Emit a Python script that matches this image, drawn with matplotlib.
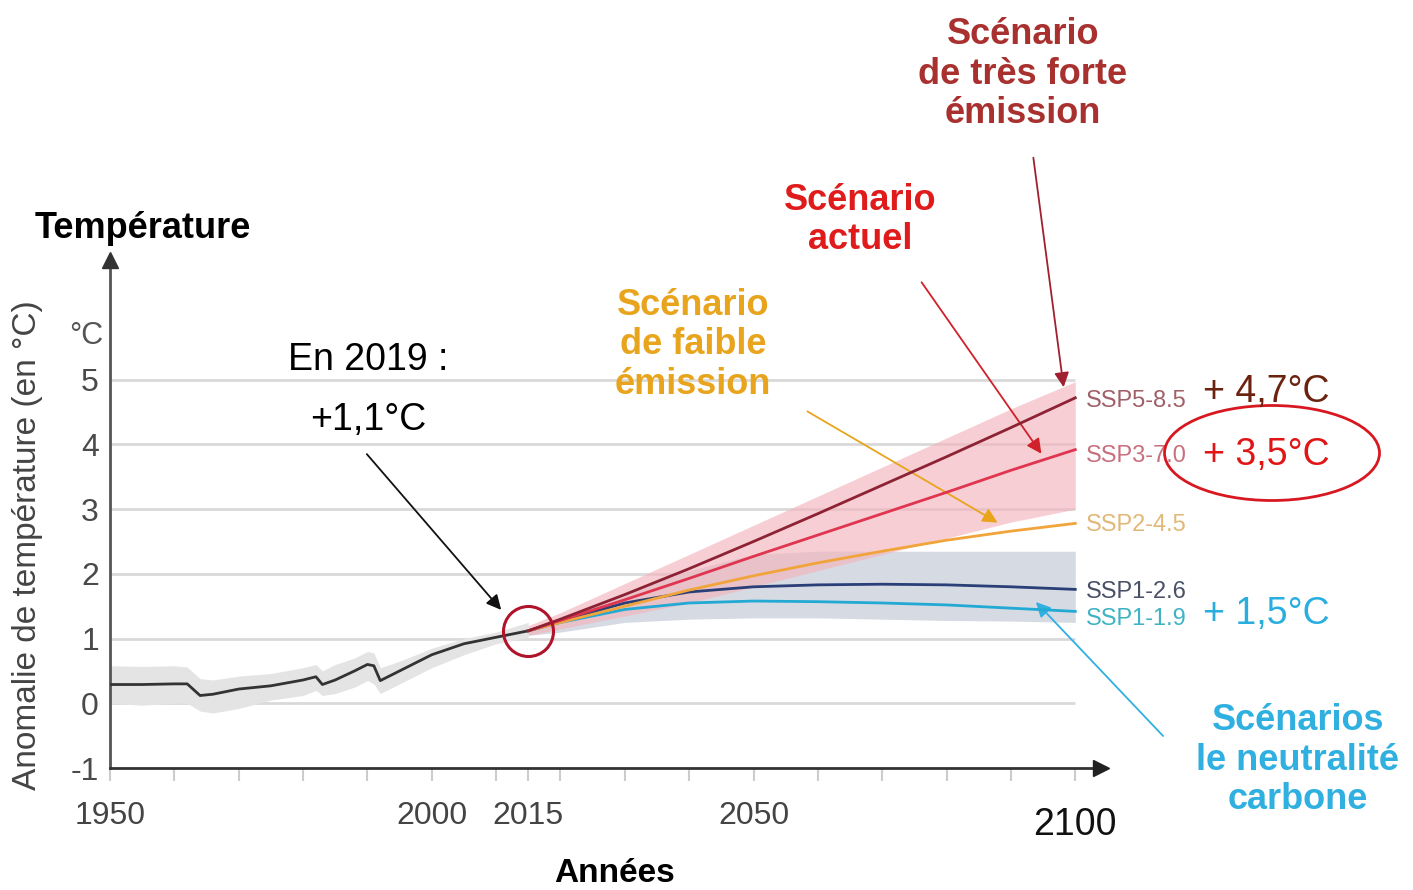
import matplotlib
matplotlib.use("Agg")
import matplotlib.pyplot as plt
from matplotlib.patches import Ellipse

plt.rcParams['font.family'] = ['Liberation Sans', 'DejaVu Sans']

# historique
hist_years = [1950, 1955, 1960, 1962, 1964, 1966, 1970, 1975, 1980, 1982, 1983,
              1985, 1988, 1990, 1991, 1992, 1995, 2000, 2005, 2010, 2015]
hist_temp = [0.29, 0.29, 0.30, 0.30, 0.12, 0.14, 0.22, 0.27, 0.36, 0.41, 0.29,
             0.36, 0.50, 0.60, 0.58, 0.35, 0.50, 0.75, 0.92, 1.02, 1.12]
hist_hi = [0.58, 0.57, 0.58, 0.56, 0.38, 0.36, 0.42, 0.46, 0.55, 0.60, 0.50,
           0.60, 0.70, 0.80, 0.78, 0.55, 0.65, 0.85, 1.00, 1.10, 1.25]
hist_lo = [0.00, -0.03, 0.00, 0.00, -0.12, -0.15, -0.08, 0.05, 0.12, 0.20, 0.12,
           0.15, 0.25, 0.35, 0.30, 0.15, 0.30, 0.55, 0.75, 0.92, 1.02]

# scénarios
fut_years = [2015, 2020, 2030, 2040, 2050, 2060, 2070, 2080, 2090, 2100]
ssp585 = [1.12, 1.30, 1.68, 2.08, 2.50, 2.93, 3.37, 3.81, 4.26, 4.72]
ssp370 = [1.12, 1.28, 1.60, 1.93, 2.27, 2.60, 2.93, 3.26, 3.60, 3.92]
ssp245 = [1.12, 1.25, 1.50, 1.75, 1.97, 2.17, 2.35, 2.52, 2.66, 2.78]
ssp126 = [1.12, 1.27, 1.55, 1.72, 1.80, 1.83, 1.84, 1.83, 1.80, 1.76]
ssp119 = [1.12, 1.25, 1.45, 1.55, 1.58, 1.57, 1.55, 1.52, 1.47, 1.42]
high_hi = [1.20, 1.40, 1.85, 2.30, 2.75, 3.20, 3.65, 4.10, 4.55, 4.97]
high_lo = [1.05, 1.15, 1.35, 1.55, 1.80, 2.05, 2.30, 2.55, 2.80, 3.00]
low_hi = [1.15, 1.30, 1.70, 2.05, 2.30, 2.35, 2.35, 2.35, 2.35, 2.35]
low_lo = [1.05, 1.10, 1.25, 1.30, 1.32, 1.32, 1.30, 1.28, 1.27, 1.25]

ssp_names = ['SSP5-8.5', 'SSP3-7.0', 'SSP2-4.5', 'SSP1-2.6', 'SSP1-1.9']
ssp_series = [ssp585, ssp370, ssp245, ssp126, ssp119]
ssp_colors = ['#8e2235', '#e0354f', '#f0a43a', '#2a3f78', '#22a9d4']
ssp_text_colors = ['#a06068', '#c8707e', '#e2b878', '#4a5066', '#3fb3c4']
ssp_label_y = [4.67, 3.82, 2.75, 1.72, 1.30]

y_ticks = [-1, 0, 1, 2, 3, 4, 5]
x_labels = [1950, 2000, 2015, 2050, 2100]
x_minor = [1960, 1970, 1980, 1990, 2010, 2020, 2030, 2040, 2060, 2070, 2080, 2090]

W, H = 1413, 890
fig = plt.figure(figsize=(W / 100, H / 100), dpi=100)

def fx(px):
    return px / W

def fy(py):
    return 1 - py / H

x0, x1 = 1950, 2104
y0, y1 = -1, 6.85
left, right, bottom, top = 110, 1101, 768, 260
ax = fig.add_axes([fx(left), fy(bottom), fx(right) - fx(left), fy(top) - fy(bottom)])
ax.set_xlim(x0, x1)
ax.set_ylim(y0, y1)

ax.hlines(range(0, 6), 1950, 2100, color='#d9d9d9', lw=2, zorder=0)

# bandes
ax.fill_between(hist_years, hist_lo, hist_hi, color='#e4e4e4', lw=0, zorder=1)
ax.fill_between(fut_years, low_lo, low_hi, color='#d6dae3', lw=0, zorder=1)
ax.fill_between(fut_years, high_lo, high_hi, color='#f4b4bc', alpha=0.65, lw=0, zorder=2)

ax.plot(hist_years, hist_temp, color='#333333', lw=2, zorder=4)
for vals, col in zip(ssp_series[::-1], ssp_colors[::-1]):
    ax.plot(fut_years, vals, color=col, lw=2, zorder=4)

ax.plot([2015], [1.12], 'o', ms=36, mfc='none', mec='#b0142a', mew=2.2, zorder=5)

for name, ly, tc in zip(ssp_names, ssp_label_y, ssp_text_colors):
    ax.text(2101.7, ly, name, color=tc, fontsize=17, va='center', ha='left')

# axes
for s in ['top', 'right']:
    ax.spines[s].set_visible(False)
ax.spines['left'].set_color('#555555')
ax.spines['left'].set_linewidth(2)
ax.spines['bottom'].set_color('#333333')
ax.spines['bottom'].set_linewidth(2)
ax.plot([1950], [y1], marker='^', ms=12, color='#333333', clip_on=False, zorder=6)
ax.plot([x1], [-1], marker='>', ms=12, color='#222222', clip_on=False, zorder=6)

ax.set_yticks(y_ticks)
ax.set_yticklabels([str(v) for v in y_ticks])
ax.tick_params(axis='y', length=0, pad=8, labelsize=23, labelcolor='#4a4a4a')
ax.set_xticks(x_labels)
ax.set_xticks(x_minor, minor=True)
ax.set_xticklabels([str(v) for v in x_labels])
ax.tick_params(axis='x', which='both', direction='out', length=9, width=1.5,
               color='#cccccc', pad=15, labelsize=23, labelcolor='#444444')
last = ax.get_xticklabels()[-1]
last.set_fontsize(27)
last.set_color('#111111')
last.set_y(-0.012)

# textes
fig.text(fx(143), fy(228), 'Température', fontsize=26, fontweight='bold', ha='center', va='center')
fig.text(fx(86), fy(336), '°C', fontsize=22, color='#555555', ha='center', va='center')
fig.text(fx(28), fy(545), 'Anomalie de température (en °C)', fontsize=24, color='#444444',
         rotation=90, ha='center', va='center')
fig.text(fx(615), fy(873), 'Années', fontsize=24, fontweight='bold', ha='center', va='center')

fig.text(fx(368), fy(360), 'En 2019 :', fontsize=27, ha='center', va='center')
fig.text(fx(368), fy(420), '+1,1°C', fontsize=27, ha='center', va='center')

fig.text(fx(693), fy(345), 'Scénario\nde faible\némission', fontsize=26, fontweight='bold',
         color='#e8a41c', ha='center', va='center', linespacing=1.15)
fig.text(fx(860), fy(220), 'Scénario\nactuel', fontsize=26, fontweight='bold',
         color='#e01b1b', ha='center', va='center', linespacing=1.15)
fig.text(fx(1023), fy(74), 'Scénario\nde très forte\némission', fontsize=26, fontweight='bold',
         color='#a8302f', ha='center', va='center', linespacing=1.15)
fig.text(fx(1298), fy(760), 'Scénarios\nle neutralité\ncarbone', fontsize=26, fontweight='bold',
         color='#2fb0e0', ha='center', va='center', linespacing=1.15)

fig.text(fx(1203), fy(392), '+ 4,7°C', fontsize=27, color='#6b2310', ha='left', va='center')
fig.text(fx(1203), fy(455), '+ 3,5°C', fontsize=27, color='#e01515', ha='left', va='center')
fig.text(fx(1203), fy(614), '+ 1,5°C', fontsize=27, color='#2aaee0', ha='left', va='center')

fig.patches.append(Ellipse((fx(1272), fy(453)), fx(215), 95 / H, transform=fig.transFigure,
                           fill=False, ec='#d81820', lw=2, figure=fig))

arrows = [
    ((365, 452), (503, 612), '#111111'),
    ((805, 410), (1000, 524), '#e8a41c'),
    ((920, 280), (1043, 456), '#d0202a'),
    ((1033, 155), (1064, 390), '#a02030'),
    ((1165, 738), (1034, 600), '#2fb0e0'),
]
for (sx, sy), (ex, ey), col in arrows:
    ax.annotate('', xy=(fx(ex), fy(ey)), xytext=(fx(sx), fy(sy)),
                xycoords='figure fraction', textcoords='figure fraction',
                arrowprops=dict(arrowstyle='-|>', color=col, lw=1.3, mutation_scale=22),
                annotation_clip=False)

fig.savefig('out.png', dpi=100)
